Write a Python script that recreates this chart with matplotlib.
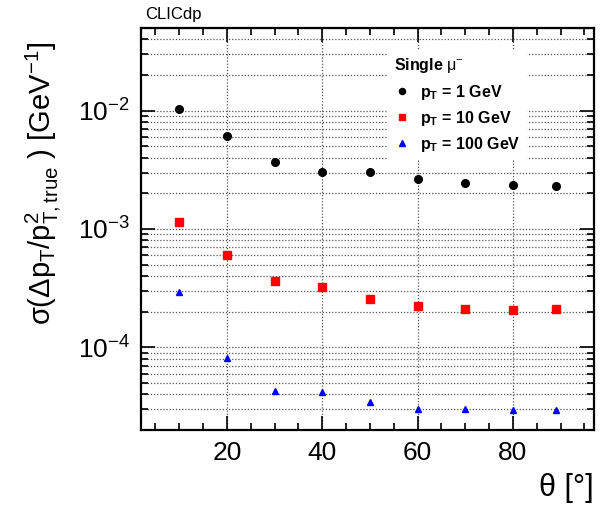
import matplotlib
matplotlib.use("Agg")
import matplotlib.pyplot as plt
from matplotlib.ticker import LogLocator, MultipleLocator, LogFormatterMathtext, NullFormatter

plt.rcParams['font.family'] = ['Liberation Sans', 'DejaVu Sans']
plt.rcParams['mathtext.fontset'] = 'custom'
plt.rcParams['mathtext.rm'] = 'Liberation Sans'
plt.rcParams['mathtext.it'] = 'Liberation Sans:italic'
plt.rcParams['mathtext.bf'] = 'Liberation Sans:bold'
plt.rcParams['mathtext.sf'] = 'Liberation Sans'

# polar angle of the muon [deg]
theta = [10, 20, 30, 40, 50, 60, 70, 80, 89]

# transverse momentum resolution for each sample
res_1gev = [0.0103, 0.00607, 0.00371, 0.00305, 0.00303, 0.00265, 0.00243, 0.00236, 0.00230]
res_10gev = [0.00115, 0.000606, 0.000363, 0.000325, 0.000254, 0.000225, 0.000209, 0.000207, 0.000211]
res_100gev = [0.000291, 8.17e-5, 4.30e-5, 4.16e-5, 3.42e-5, 3.02e-5, 3.00e-5, 2.95e-5, 2.95e-5]

labels = [r'$\mathbf{p_{T}}$ = 1 GeV', r'$\mathbf{p_{T}}$ = 10 GeV', r'$\mathbf{p_{T}}$ = 100 GeV']

fig = plt.figure(figsize=(6.01, 5.07), dpi=100)
ax = fig.add_axes([141 / 601, 1 - 430 / 507, (594 - 141) / 601, (430 - 28) / 507])

ax.plot(theta, res_1gev, 'o', color='black', markersize=5.5, label=labels[0], zorder=3)
ax.plot(theta, res_10gev, 's', color='#ff0000', markersize=5.5, label=labels[1], zorder=3)
ax.plot(theta, res_100gev, '^', color='#0000ff', markersize=5, label=labels[2], zorder=3)

ax.set_yscale('log')
ax.set_xlim(2, 97)
ax.set_ylim(2e-5, 5e-2)

ax.xaxis.set_major_locator(MultipleLocator(20))
ax.xaxis.set_minor_locator(MultipleLocator(5))
ax.yaxis.set_major_locator(LogLocator(base=10, numticks=10))
ax.yaxis.set_minor_locator(LogLocator(base=10, subs=range(2, 10), numticks=20))
ax.yaxis.set_major_formatter(LogFormatterMathtext())
ax.yaxis.set_minor_formatter(NullFormatter())

ax.tick_params(which='both', direction='in', top=True, right=True, width=1.2, labelsize=19)
ax.tick_params(which='major', length=10, pad=8)
ax.tick_params(which='minor', length=5)
for s in ax.spines.values():
    s.set_linewidth(1.6)

ax.grid(True, axis='x', which='major', linestyle=(0, (1, 1.5)), color='#555555', linewidth=0.9)
ax.grid(True, axis='y', which='both', linestyle=(0, (1, 1.5)), color='#555555', linewidth=0.9)
ax.set_axisbelow(True)

ax.set_ylabel(r'$\mathrm{\sigma(\Delta p_{T}/p^{2}_{T,true}\ )}$ [GeV$^{-1}$]', fontsize=21)
ax.yaxis.set_label_coords(-0.172, 0.613)
ax.set_xlabel('θ [°]', fontsize=22, loc='right', labelpad=6)

fig.text(145 / 601, 1 - 15 / 507, 'CLICdp', fontsize=12, ha='left', va='center')

leg = ax.legend(loc='upper left', bbox_to_anchor=(388 / 601, 1 - 50 / 507),
                bbox_transform=fig.transFigure, title=r'Single $\mathrm{\mu^{-}}$',
                prop={'weight': 'bold', 'size': 11.5}, title_fontproperties={'weight': 'bold', 'size': 11.5},
                frameon=True, fancybox=False, edgecolor='none', facecolor='white', framealpha=1,
                handlelength=1.0, handletextpad=0.6, borderpad=0.4, labelspacing=0.45,
                borderaxespad=0, markerscale=0.8)
leg._legend_box.align = 'left'
leg.set_zorder(5)

fig.savefig('out.png', dpi=100)
